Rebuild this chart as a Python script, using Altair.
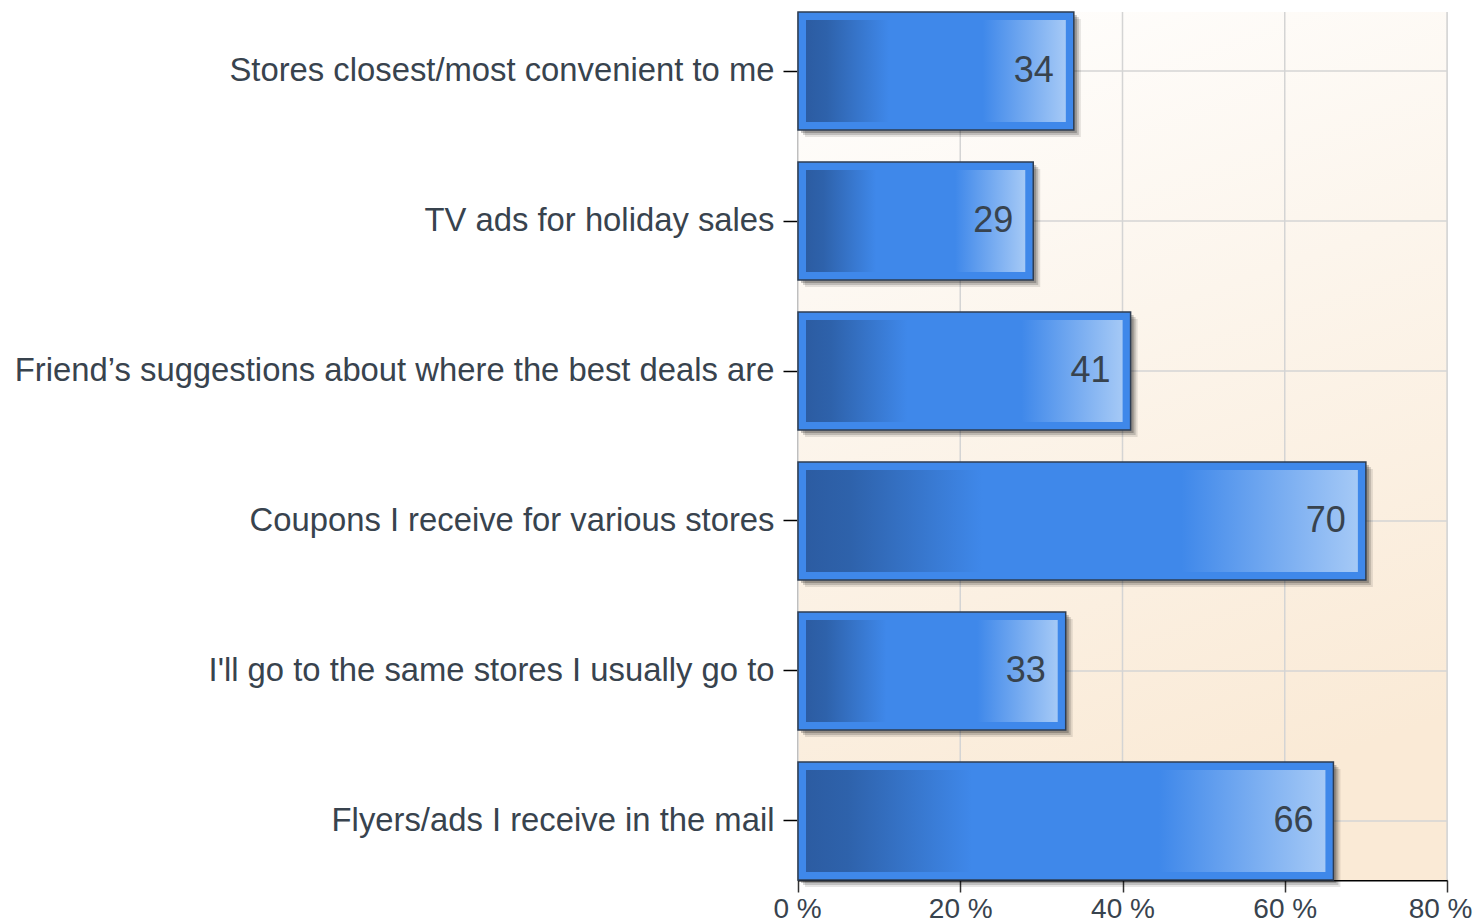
import altair as alt
import pandas as pd

categories = [
    "Stores closest/most convenient to me",
    "TV ads for holiday sales",
    "Friend\u2019s suggestions about where the best deals are",
    "Coupons I receive for various stores",
    "I'll go to the same stores I usually go to",
    "Flyers/ads I receive in the mail",
]
values = [34, 29, 41, 70, 33, 66]
x_ticks = [0, 20, 40, 60, 80]

df = pd.DataFrame({"cat": categories, "val": values, "zero": [0] * len(values)})
ticks_df = pd.DataFrame({"t": x_ticks})
one = pd.DataFrame({"a": [0]})

W, H = 649, 868
FONT = "Liberation Sans"
TXT = "#38434e"

x_scale = alt.Scale(domain=[0, 80], nice=False, zero=True)
y_scale = alt.Scale(paddingInner=0.213, paddingOuter=0)

x_axis = alt.Axis(
    values=x_ticks, labelExpr="datum.value + ' %'", grid=False, title=None,
    domainColor="#000000", domainWidth=2, tickColor="#333333", tickWidth=1.5,
    tickSize=12, labelFontSize=28, labelColor=TXT, labelFont=FONT, labelPadding=3,
    labelFlush=True, labelFlushOffset=25, labelOverlap=False,
)
y_axis = alt.Axis(
    grid=False, title=None, domainColor="#000000", domainWidth=2,
    tickColor="#000000", tickWidth=1.5, tickSize=15, labelFontSize=32.8,
    labelColor=TXT, labelFont=FONT, labelPadding=9, labelLimit=0,
)

def X(field):
    return alt.X(field, type="quantitative", scale=x_scale, axis=x_axis)

Y = alt.Y("cat:N", sort=categories, scale=y_scale, axis=y_axis)

bg = alt.Chart(one).mark_rect(
    color=alt.LinearGradient(
        gradient="linear",
        stops=[alt.GradientStop(color="#ffffff", offset=0),
               alt.GradientStop(color="#fcf5ec", offset=0.45),
               alt.GradientStop(color="#faead6", offset=1)],
        x1=0, y1=0, x2=0.25, y2=1,
    )
).encode(x=alt.value(0), x2=alt.value(W), y=alt.value(0), y2=alt.value(H))

vgrid = alt.Chart(ticks_df).mark_rule(color="#d4d4d4", strokeWidth=1.5).encode(
    x=X("t"), y=alt.value(0), y2=alt.value(H)
)
hgrid = alt.Chart(df).mark_rule(color="#d4d4d4", strokeWidth=1.5).encode(
    y=Y, x=alt.value(0), x2=alt.value(W)
)

shadows = []
for off, op in [(3, 0.22), (5, 0.16), (7, 0.10)]:
    shadows.append(
        alt.Chart(df).mark_bar(color="#000000", opacity=op, xOffset=off, x2Offset=off, yOffset=off).encode(
            x=X("zero"), x2="val", y=Y
        )
    )

outer = alt.Chart(df).mark_bar(color="#3f88ea", stroke="#2e3d52", strokeWidth=1.5).encode(
    x=X("zero"), x2="val", y=Y
)

inner = alt.Chart(df).mark_bar(
    xOffset=8, x2Offset=-8, height={"band": 102 / 118},
    color=alt.LinearGradient(
        gradient="linear",
        stops=[alt.GradientStop(color="#2c5ca2", offset=0),
               alt.GradientStop(color="#2e62ab", offset=0.08),
               alt.GradientStop(color="#3f88ea", offset=0.32),
               alt.GradientStop(color="#3f88ea", offset=0.68),
               alt.GradientStop(color="#a5c9f6", offset=1)],
        x1=0, y1=0, x2=1, y2=0,
    ),
).encode(x=X("zero"), x2="val", y=Y)

labels = alt.Chart(df).mark_text(
    align="right", baseline="middle", dx=-20, fontSize=36, color=TXT, font=FONT
).encode(x=X("val"), y=Y, text="val:Q")

chart = alt.layer(bg, vgrid, hgrid, *shadows, outer, inner, labels).properties(
    width=W, height=H,
    autosize=alt.AutoSizeParams(type="none"),
    padding={"left": 790, "top": 4, "right": 27, "bottom": 46},
).configure_view(stroke=None).configure(background="#ffffff")

chart.save("out.html", embed_options={"renderer": "svg", "actions": False})
